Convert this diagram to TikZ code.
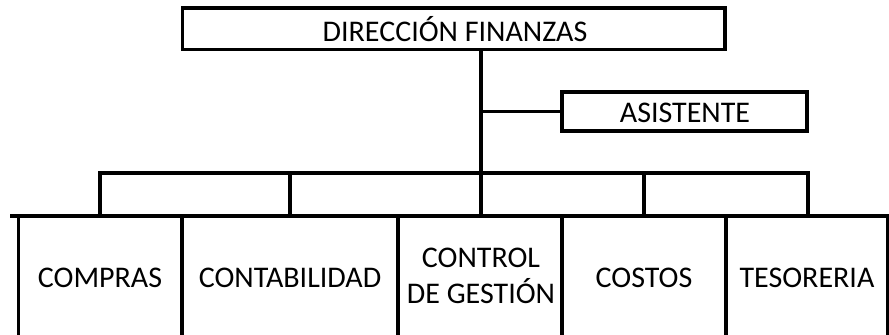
\documentclass[tikz,border=0pt]{standalone}
\usepackage{fontspec}
\setmainfont{Carlito}
\begin{document}
\begin{tikzpicture}[x=0.75pt,y=-0.75pt,
  box/.style={draw=black,line width=2.4pt,rectangle,inner sep=0pt,outer sep=0pt,anchor=north west},
  lbl/.style={font=\fontsize{22.5}{27}\selectfont,text=black,align=center,inner sep=0pt},
  link/.style={draw=black,line width=2.4pt}]
\useasboundingbox (0,0) rectangle (889,335);
\clip (0,0) rectangle (889,335);
\node[box,minimum width=542.5pt*0.75,minimum height=41.5pt*0.75] (dir) at (182.5,8) {};
\node[lbl] (dirt) at (455,29.5) {DIRECCIÓN FINANZAS};
\node[box,minimum width=245pt*0.75,minimum height=39pt*0.75] (asis) at (562,92) {};
\node[lbl] (asist) at (685,112.5) {ASISTENTE};
\node[box,minimum width=163.5pt*0.75,minimum height=121pt*0.75] (b1) at (18.5,216) {};
\node[box,minimum width=216pt*0.75,minimum height=121pt*0.75] (b2) at (182,216) {};
\node[box,minimum width=164pt*0.75,minimum height=121pt*0.75] (b3) at (398,216) {};
\node[box,minimum width=164pt*0.75,minimum height=121pt*0.75] (b4) at (562,216) {};
\node[box,minimum width=162pt*0.75,minimum height=121pt*0.75] (b5) at (726,216) {};
\node[lbl] (t1) at (100,278) {COMPRAS};
\node[lbl] (t2) at (290,278) {CONTABILIDAD};
\node[lbl] (t3) at (481,276) {CONTROL\\DE GESTIÓN};
\node[lbl] (t4) at (644,278) {COSTOS};
\node[lbl] (t5) at (807,278) {TESORERIA};
\coordinate (j) at (481,173);
\coordinate (lo) at (10,216);
\draw[link] (j |- dir.south) -- (j);
\draw[link] (j |- asis.west) -- (asis.west);
\draw[link] (b1.north -| 100,0) -- (100,173 |- j) -- (808,173 |- j) -- (b5.north -| 808,0);
\draw[link] (b2.north -| 290,0) -- (290,173 |- j);
\draw[link] (j) -- (b3.north -| j);
\draw[link] (b4.north -| 644,0) -- (644,173 |- j);
\draw[link] (lo) -- (b1.north west);
\end{tikzpicture}
\end{document}
